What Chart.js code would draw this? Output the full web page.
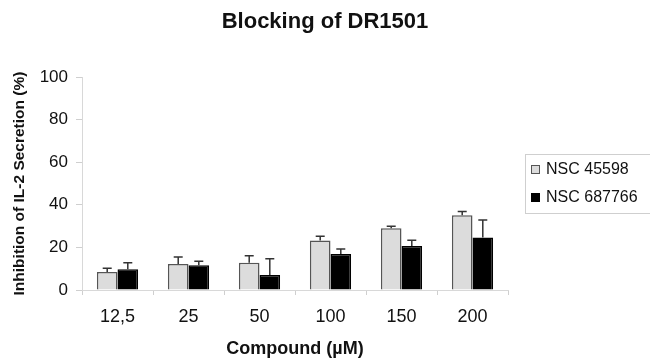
<!DOCTYPE html>
<html>
<head>
<meta charset="utf-8">
<script src="https://cdn.jsdelivr.net/npm/chart.js@4/dist/chart.umd.min.js"></script>
<style>
html,body{margin:0;padding:0;background:#fff;}
#wrap{width:650px;height:358px;position:relative;}
</style>
</head>
<body>
<div id="wrap"><canvas id="c" width="650" height="358"></canvas></div>
<script>
const categories = ['12,5', '25', '50', '100', '150', '200'];
const seriesNames = ['NSC 45598', 'NSC 687766'];
const nsc45598 = [8.5, 12.2, 12.8, 23.2, 29.0, 35.1];
const nsc45598Err = [1.7, 3.3, 3.3, 2.0, 0.9, 1.8];
const nsc687766 = [9.7, 11.6, 7.0, 16.9, 20.7, 24.6];
const nsc687766Err = [3.1, 1.9, 7.7, 2.3, 2.6, 8.3];
const yTicks = [0, 20, 40, 60, 80, 100];

const FONT = '"Liberation Sans", Arial, sans-serif';

const errorBars = {
  id: 'errorBars',
  afterDatasetsDraw(chart) {
    const ctx = chart.ctx;
    const y = chart.scales.y;
    chart.data.datasets.forEach((ds, i) => {
      const meta = chart.getDatasetMeta(i);
      meta.data.forEach((bar, j) => {
        const top = y.getPixelForValue(ds.data[j] + ds.errors[j]);
        const base = bar.y;
        ctx.save();
        ctx.strokeStyle = '#333';
        ctx.lineWidth = 1.5;
        ctx.beginPath();
        ctx.moveTo(bar.x, base);
        ctx.lineTo(bar.x, top);
        ctx.moveTo(bar.x - 4.5, top);
        ctx.lineTo(bar.x + 4.5, top);
        ctx.stroke();
        ctx.restore();
      });
    });
  }
};

const boxLegend = {
  id: 'boxLegend',
  afterDraw(chart) {
    const ctx = chart.ctx;
    ctx.save();
    ctx.strokeStyle = '#cfcfcf';
    ctx.lineWidth = 1;
    ctx.strokeRect(525.5, 154.5, 130, 59);
    ctx.font = '16px ' + FONT;
    ctx.textBaseline = 'middle';
    ctx.textAlign = 'left';
    chart.data.datasets.forEach((ds, i) => {
      const cy = 169 + i * 28;
      ctx.fillStyle = ds.backgroundColor;
      ctx.fillRect(531, cy - 4, 9, 9);
      ctx.strokeStyle = ds.borderColor;
      ctx.lineWidth = 1;
      ctx.strokeRect(531.5, cy - 3.5, 8, 8);
      ctx.fillStyle = '#111';
      ctx.fillText(ds.label, 546, cy + 1);
    });
    ctx.restore();
  }
};

new Chart(document.getElementById('c'), {
  type: 'bar',
  data: {
    labels: categories,
    datasets: [
      {label: seriesNames[0], data: nsc45598, errors: nsc45598Err,
       backgroundColor: '#dcdcdc', borderColor: '#555', borderWidth: 1.5,
       barPercentage: 1.0, categoryPercentage: 0.58},
      {label: seriesNames[1], data: nsc687766, errors: nsc687766Err,
       backgroundColor: '#000', borderColor: '#000', borderWidth: 1.5,
       barPercentage: 1.0, categoryPercentage: 0.58}
    ]
  },
  options: {
    responsive: false,
    animation: false,
    devicePixelRatio: 1,
    layout: {padding: 0},
    plugins: {
      legend: {display: false},
      tooltip: {enabled: false},
      title: {
        display: true, text: 'Blocking of DR1501', color: '#111',
        font: {family: FONT, size: 22, weight: 'bold', lineHeight: 1.2},
        padding: {top: 8.5, bottom: 42.1}
      }
    },
    scales: {
      x: {
        afterFit(s) { s.height = 68; },
        grid: {drawOnChartArea: false, drawTicks: true, tickLength: 5, color: '#cfcfcf'},
        border: {color: '#d8d8d8', width: 1},
        ticks: {color: '#111', padding: 11, font: {family: FONT, size: 18}},
        title: {display: true, text: 'Compound (µM)', color: '#111',
                font: {family: FONT, size: 18, weight: 'bold', lineHeight: 1},
                padding: {top: 0, bottom: 0}}
      },
      y: {
        min: 0, max: 100,
        afterFit(s) { s.width = 82; },
        afterBuildTicks(s) { s.ticks = yTicks.map(v => ({value: v})); },
        grid: {drawOnChartArea: false, drawTicks: true, tickLength: 6, color: '#cfcfcf'},
        border: {color: '#d8d8d8', width: 1},
        ticks: {color: '#111', padding: 8, font: {family: FONT, size: 17}},
        title: {display: true, text: 'Inhibition of IL-2 Secretion (%)', color: '#111',
                font: {family: FONT, size: 15.5, weight: 'bold', lineHeight: 1},
                padding: {top: 12, bottom: 0}}
      },
      yRight: {
        position: 'right',
        min: 0, max: 100,
        afterFit(s) { s.width = 142; },
        grid: {display: false, drawTicks: false},
        border: {display: false},
        ticks: {display: false}
      }
    }
  },
  plugins: [errorBars, boxLegend]
});
</script>
</body>
</html>
